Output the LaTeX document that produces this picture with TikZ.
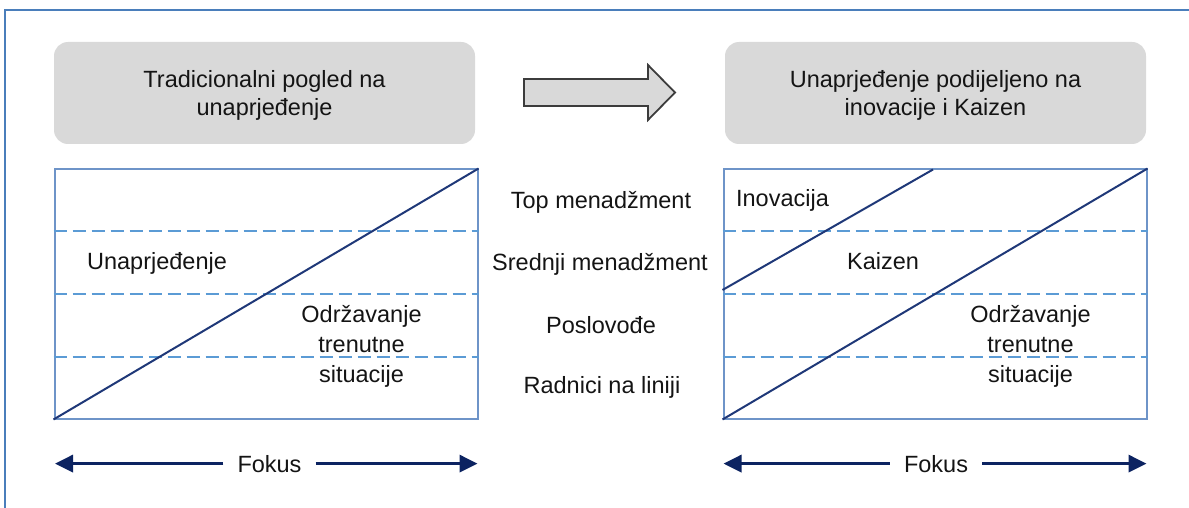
\documentclass[tikz,border=0pt]{standalone}
\usepackage{fontspec}
\setmainfont{Liberation Sans}
\usetikzlibrary{arrows.meta,calc}
\definecolor{framecol}{RGB}{74,126,187}
\definecolor{panelcol}{RGB}{110,148,200}
\definecolor{dashcol}{RGB}{91,155,213}
\definecolor{diagcol}{RGB}{31,56,120}
\definecolor{fokuscol}{RGB}{12,35,97}
\definecolor{boxgray}{RGB}{217,217,217}
\definecolor{arrowedge}{RGB}{60,60,60}
\definecolor{txt}{RGB}{20,20,20}
\newcommand{\mytxt}{\fontsize{23.5}{28}\selectfont}
\newcommand{\mytxtb}{\fontsize{23.5}{30}\selectfont}
\begin{document}
\begin{tikzpicture}[x=1pt,y=-1pt,
  graybox/.style={fill=boxgray,rounded corners=14pt,minimum width=421pt,minimum height=102pt,inner sep=0pt},
  panel/.style={draw=panelcol,line width=2pt,minimum width=423pt,minimum height=249pt,inner sep=0pt},
  level/.style={draw=dashcol,line width=1.7pt,dash pattern=on 13pt off 6pt},
  diag/.style={draw=diagcol,line width=2pt},
  lbl/.style={anchor=base,inner sep=0pt,text=txt,font=\mytxt},
  fokuslbl/.style={anchor=base,inner xsep=14pt,inner ysep=0pt,text=txt,font=\mytxt},
  fokus/.style={draw=fokuscol,line width=3.4pt,-{Triangle[length=18pt,width=17pt]}},
  blockarrow/.style={fill=boxgray,draw=arrowedge,line width=1.8pt,line join=miter}]
\useasboundingbox (0,0) rectangle (1189,508);
% outer frame (open to the right and bottom)
\draw[framecol,line width=2.6pt] (5,508) -- (5,10) -- (1189,10);

% header boxes
\node[graybox] (boxL) at (264.5,93) {};
\node[lbl,font=\mytxt] (tL) at (264.5,88) {\begin{tabular}[t]{@{}c@{}}Tradicionalni pogled na\\unaprjeđenje\end{tabular}};
\node[graybox] (boxR) at (935.5,93) {};
\node[lbl,font=\mytxt] (tR) at (935.5,88) {\begin{tabular}[t]{@{}c@{}}Unaprjeđenje podijeljeno na\\inovacije i Kaizen\end{tabular}};

% block arrow
\draw[blockarrow] (524,79) -- (648,79) -- (648,65) -- (675,92.5) -- (648,120) -- (648,106) -- (524,106) -- cycle;

% panels
\node[panel] (pL) at (266,294) {};
\node[panel] (pR) at (935,294) {};
\foreach \p in {pL,pR}{
  \foreach \f in {0.25,0.5,0.75}{
    \draw[level] ($(\p.north west)!\f!(\p.south west)$) -- ($(\p.north east)!\f!(\p.south east)$);
  }
}
\draw[diag] (pL.south west) -- (pL.north east);
\draw[diag] (pR.south west) -- (pR.north east);
\coordinate (inoA) at (722.5,290);
\coordinate (inoB) at (933,169.5);
\draw[diag] (inoA) -- (inoB);

% left panel labels
\node[lbl] (unap) at (157,269) {Unaprjeđenje};
\node[lbl,font=\mytxtb] (odrL) at (361.5,322) {\begin{tabular}[t]{@{}c@{}}Održavanje\\trenutne\\situacije\end{tabular}};

% right panel labels
\node[lbl] (ino) at (782.5,207) {Inovacija};
\node[lbl] (kai) at (883,269) {Kaizen};
\node[lbl,font=\mytxtb] (odrR) at (1030.5,322) {\begin{tabular}[t]{@{}c@{}}Održavanje\\trenutne\\situacije\end{tabular}};

% middle levels
\node[lbl] (top) at (601,208) {Top menadžment};
\node[lbl] (sred) at (600,270) {Srednji menadžment};
\node[lbl] (posl) at (601,333) {Poslovođe};
\node[lbl] (radn) at (602,393) {Radnici na liniji};

% focus arrows
\node[fokuslbl] (fL) at (269.5,472) {Fokus};
\coordinate (fLl) at (55,463.5);
\coordinate (fLr) at (477.5,463.5);
\draw[fokus] (fL.west) -- (fL.west -| fLl);
\draw[fokus] (fL.east) -- (fL.east -| fLr);
\node[fokuslbl] (fR) at (936,472) {Fokus};
\coordinate (fRl) at (723.5,463.5);
\coordinate (fRr) at (1146.5,463.5);
\draw[fokus] (fR.west) -- (fR.west -| fRl);
\draw[fokus] (fR.east) -- (fR.east -| fRr);
\end{tikzpicture}
\end{document}
